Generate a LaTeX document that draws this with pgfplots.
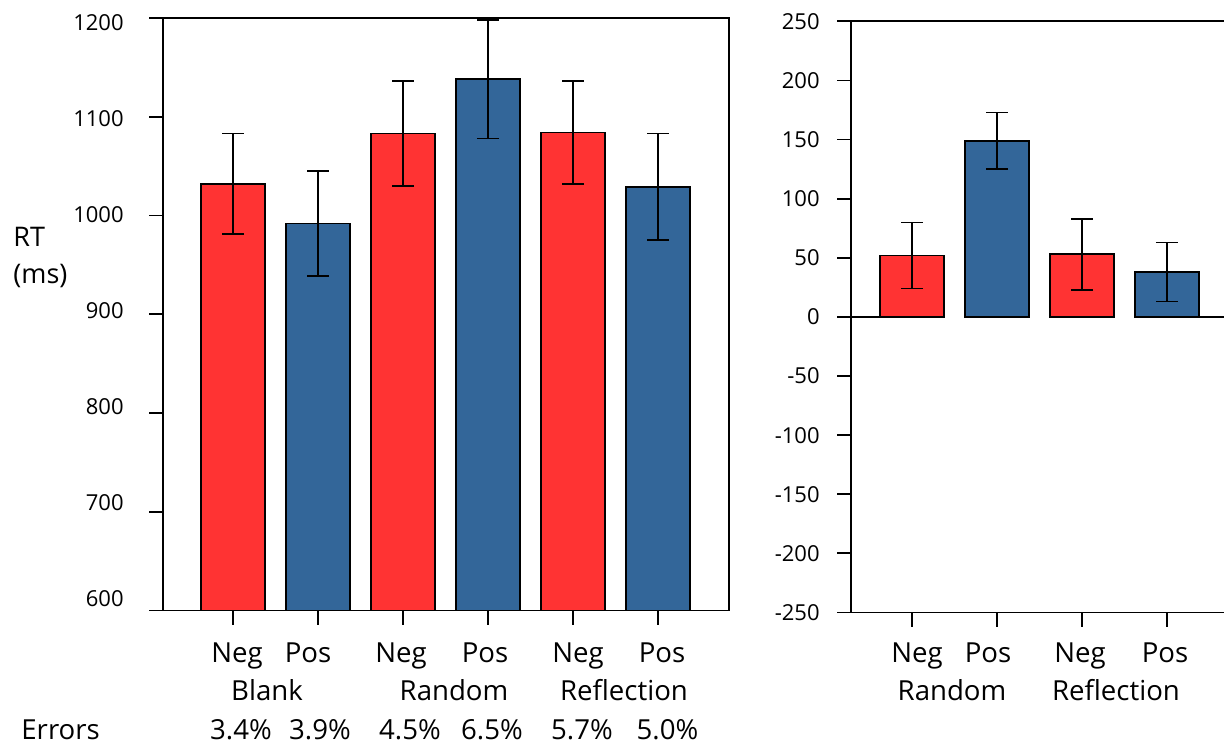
\documentclass[border=0pt]{standalone}
\usepackage{fontspec}
\setmainfont{Open Sans}
\usepackage{pgfplots}
\usepackage{pgfplotstable}
\pgfplotsset{compat=1.18}
\definecolor{barred}{RGB}{255,51,51}
\definecolor{barblue}{RGB}{51,102,153}
\pgfplotstableread{
x y e
1 1032 51
3 1083 53
5 1084 52
}\leftneg
\pgfplotstableread{
x y e
2 992 53
4 1138 60
6 1029 54
}\leftpos
\pgfplotstableread{
x y e
1 52 28
3 53 30
}\rightneg
\pgfplotstableread{
x y e
2 149 24
4 38 25
}\rightpos
\pgfplotsset{
  mystyle/.style={
    scale only axis, tick align=outside, xtick pos=bottom, ytick pos=left,
    major tick length=7pt,
    axis line style={line width=0.9pt},
    every tick/.style={black,line width=0.9pt},
    ybar, bar width=32pt, bar shift=0pt,
    xticklabels={},
    yticklabel style={font=\fontsize{11}{13}\selectfont, anchor=east, inner sep=0pt},
  },
  mybar/.style={fill=#1, draw=black, line width=0.9pt,
    error bars/.cd, y dir=both, y explicit,
    error bar style={line width=0.8pt, black},
    error mark options={rotate=90, mark size=5.5pt, line width=0.8pt, black}},
}
\begin{document}
\begin{tikzpicture}
\path[use as bounding box] (0,0) rectangle (612pt,372.5pt);
\clip (0,0) rectangle (612pt,372.5pt);
\begin{axis}[mystyle, at={(81.5pt,67.25pt)}, anchor=south west,
  width=283pt, height=296.25pt,
  xmin=0.1765, xmax=6.835, ymin=600, ymax=1200,
  xtick={1,...,6}, ytick={600,700,...,1200},
  yticklabel style={xshift=-12.5pt},
  yticklabels={\raisebox{2pt}[0pt][0pt]{600},\raisebox{0.65pt}[0pt][0pt]{700},\raisebox{-0.75pt}[0pt][0pt]{800},\raisebox{-2.1pt}[0pt][0pt]{900},\raisebox{-3.45pt}[0pt][0pt]{1000},\raisebox{-4.8pt}[0pt][0pt]{1100},\raisebox{-6.15pt}[0pt][0pt]{1200}}]
\addplot[mybar=barred] table[x=x,y=y,y error=e] {\leftneg};
\addplot[mybar=barblue] table[x=x,y=y,y error=e] {\leftpos};
\end{axis}
\begin{axis}[mystyle, at={(425.5pt,66.25pt)}, anchor=south west,
  width=188.5pt, height=295.6pt,
  xmin=0.282, xmax=4.718, ymin=-250, ymax=250,
  xtick={1,...,4}, ytick={-250,-200,...,250},
  yticklabel style={xshift=-8.5pt},
  yticklabels={-250,-200,-150,-100,-50,0,50,100,150,200,250}]
\addplot[black, line width=0.6pt, forget plot, sharp plot, no marks, ybar=false] coordinates {(0.282,0) (4.718,0)};
\addplot[mybar=barred] table[x=x,y=y,y error=e] {\rightneg};
\addplot[mybar=barblue] table[x=x,y=y,y error=e] {\rightpos};
\end{axis}
\tikzset{lab/.style={anchor=base, inner sep=0pt, font=\fontsize{13.8}{16}\selectfont}}
\foreach \xx/\tt in {118.5/Neg,154/Pos,200.5/Neg,242.5/Pos,289/Neg,331/Pos,458.5/Neg,494/Pos,540/Neg,582.5/Pos}
  \node[lab] at (\xx pt,41.15pt) {\tt};
\foreach \xx/\tt in {133.5/Blank,227/Random,312/Reflection,476/Random,558/Reflection}
  \node[lab] at (\xx pt,22.15pt) {\tt};
\node[lab, anchor=base west] at (10.5pt,2.85pt) {Errors};
\foreach \xx/\tt in {120.5/3.4,160/3.9,205/4.5,246/6.5,291/5.7,333.75/5.0}
  \node[lab] at (\xx pt,2.85pt) {\tt\%};
\node[anchor=base west, inner sep=0pt, font=\fontsize{13.5}{16}\selectfont] at (6.5pt,249.15pt) {RT};
\node[anchor=base west, inner sep=0pt, font=\fontsize{13.5}{16}\selectfont] at (6.5pt,230.85pt) {(ms)};
\end{tikzpicture}
\end{document}
